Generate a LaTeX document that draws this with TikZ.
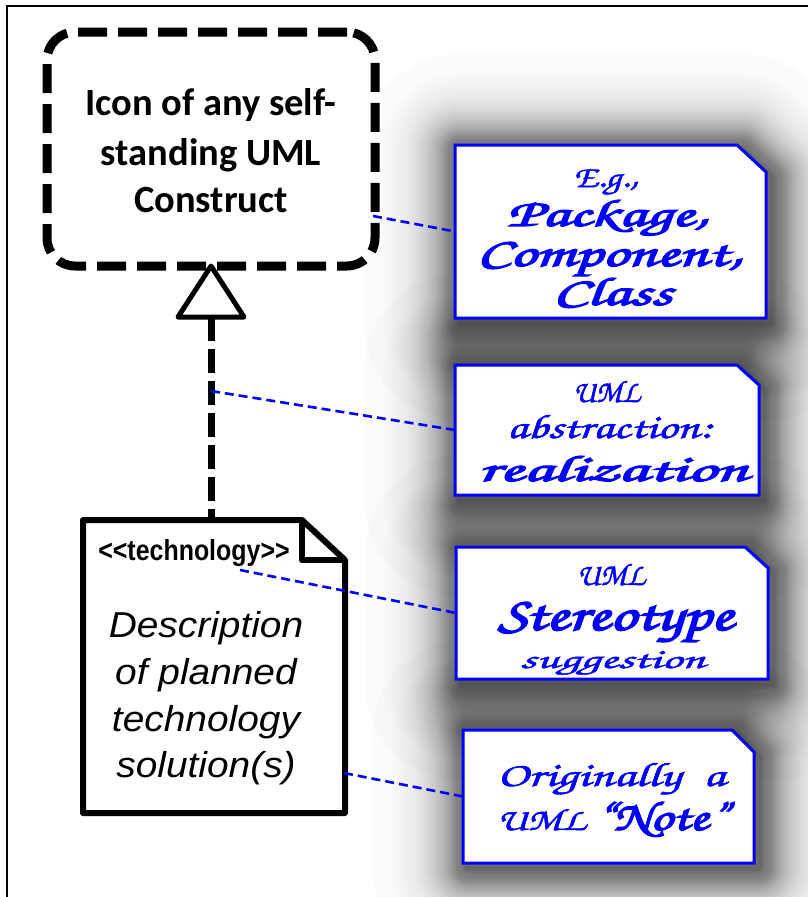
\documentclass[tikz,border=0pt]{standalone}
\usepackage{fontspec}
\usepackage{graphicx}
\setmainfont{Liberation Sans}
\newfontfamily\calibri{Carlito}
\newfontfamily\narrowsans[FakeStretch=0.86,Ligatures=TeXOff]{Liberation Sans}
\newfontfamily\descsans[FakeStretch=1.08]{Liberation Sans}
\newfontfamily\chorus[FakeBold=1.5]{texgyrechorus-mediumitalic.otf}
\newfontfamily\chorusbf[FakeBold=3]{texgyrechorus-mediumitalic.otf}
\usetikzlibrary{calc}
\begin{document}
\begin{tikzpicture}[x=1pt,y=-1pt,
  conn/.style={draw=blue, line width=2.6pt, dash pattern=on 9pt off 5pt},
  notebox/.style={draw=blue, line width=3pt, fill=white, line join=miter},
  holder/.style={inner sep=0pt, outer sep=0pt, draw=none},
  scr/.style={anchor=base, text=blue, inner sep=0pt, font=\fontsize{30}{30}\selectfont},
  icontxt/.style={anchor=base, inner sep=0pt, font=\calibri\bfseries\fontsize{38.5}{46}\selectfont},
  desctxt/.style={anchor=base, inner sep=0pt, font=\descsans\itshape\fontsize{36}{44}\selectfont}
]
\useasboundingbox (0,0) rectangle (808,897);
\fill[white] (0,0) rectangle (808,897);

% note placeholders
\node[holder, minimum width=311pt, minimum height=173pt] (n1) at (610.5,231.5) {};
\node[holder, minimum width=304pt, minimum height=130pt] (n2) at (607,430) {};
\node[holder, minimum width=312pt, minimum height=132pt] (n3) at (612,613) {};
\node[holder, minimum width=291pt, minimum height=133pt] (n4) at (608.5,796.5) {};

% soft shadows: stacked translucent strokes giving a blurred-edge profile
\begin{scope}[transform canvas={shift={(5pt,-5pt)}}]
\foreach \k in {1,...,64}{
  \pgfmathsetmacro\hw{1.5*\k}
  \pgfmathsetmacro\Ta{1.05/(1+exp(0.045*(\hw-0.75)))}
  \pgfmathsetmacro\Tb{\k==64 ? 0 : 1.05/(1+exp(0.045*(\hw+0.75)))}
  \pgfmathsetmacro\al{1-(1-\Ta)/(1-\Tb)}
  \foreach \n/\cx/\cy in {n1/29/27, n2/22/20, n3/23/21, n4/22/22}{
    \path[draw=black, draw opacity=\al, line width=2*\hw*1pt, line join=round] (\n.south west) -- (\n.north west) -- ($(\n.north east)+(-\cx,0)$) -- ($(\n.north east)+(0,\cy)$) -- (\n.south east) -- cycle;
  }
}
\end{scope}
\foreach \n/\cx/\cy in {n1/29/27, n2/22/20, n3/23/21, n4/22/22}
  \draw[notebox] (\n.south west) -- (\n.north west) -- ($(\n.north east)+(-\cx,0)$) -- ($(\n.north east)+(0,\cy)$) -- (\n.south east) -- cycle;

% frame
\draw[line width=2.5pt] (7,905) -- (7,6) -- (815,6);

% icon box
\node[draw, line width=9pt, dash pattern=on 29pt off 11pt, rounded corners=28pt, minimum width=328pt, minimum height=234pt, fill=white, inner sep=0pt, outer sep=0pt] (icon) at (211,149) {};
\node[icontxt] (ic1) at (211,115) {Icon of any self-};
\node[icontxt] (ic2) at (211,165) {standing UML};
\node[icontxt] (ic3) at (211,212) {Construct};

% document
\node[holder, minimum width=262pt, minimum height=293pt] (doc) at (214,666.5) {};
\draw[line width=6pt, line join=round, fill=white] (doc.south west) -- (doc.north west) -- ($(doc.north east)+(-43,0)$) -- ($(doc.north east)+(0,40)$) -- (doc.south east) -- cycle;
\draw[line width=6pt, line join=round] ($(doc.north east)+(-43,0)$) -- ($(doc.north east)+(-43,40)$) -- ($(doc.north east)+(0,40)$);

% realization
\coordinate (tb) at (211,317);
\draw[line width=7pt, dash pattern=on 24pt off 8pt] (tb) -- (tb |- doc.north);
\draw[line width=5pt, line join=round, fill=white] (icon.south) -- ($(tb)+(-33,0)$) -- ($(tb)+(33,0)$) -- cycle;

\node[anchor=base, inner sep=0pt, font=\narrowsans\bfseries\fontsize{29}{34}\selectfont] (tech) at (194,560) {<<technology>>};
\node[desctxt] (d1) at (206,637) {Description};
\node[desctxt] (d2) at (206,684) {of planned};
\node[desctxt] (d3) at (206,731) {technology};
\node[desctxt] (d4) at (206,777) {solution(s)};

% connectors
\coordinate (iconpt) at (373,216);
\coordinate (realpt) at (211,391);
\coordinate (techpt) at (240,570);
\coordinate (docpt) at (344,773);
\draw[conn] (iconpt) -- (n1.west);
\draw[conn] (realpt) -- (n2.west);
\draw[conn] (techpt) -- (n3.west);
\draw[conn] (docpt) -- (n4.west);

% note texts
\node[scr] (a1) at (605.5,187) {\resizebox{65pt}{18pt}{\chorus E.g.,}};
\node[scr] (a2) at (607.5,226) {\resizebox{201pt}{26pt}{\chorusbf Package,}};
\node[scr] (a3) at (609.5,266) {\resizebox{265pt}{24pt}{\chorusbf Component,}};
\node[scr] (a4) at (612.5,305) {\resizebox{119pt}{27pt}{\chorusbf Class}};
\node[scr] (b1) at (606.5,402) {\resizebox{67pt}{21pt}{\chorus UML}};
\node[scr] (b2) at (609.5,438) {\resizebox{205pt}{23pt}{\chorus abstraction:}};
\node[scr] (b3) at (613,481) {\resizebox{270pt}{25pt}{\chorusbf realization}};
\node[scr] (c1) at (611,585) {\resizebox{68pt}{21pt}{\chorus UML}};
\node[scr] (c2) at (615.5,630) {\resizebox{235pt}{28pt}{\chorusbf Stereotype}};
\node[scr] (c3) at (612.5,668) {\resizebox{185pt}{17pt}{\chorus suggestion}};
\node[scr] (e1) at (611,786) {\resizebox{228pt}{23pt}{\chorus Originally\ \ a}};
\node[scr] (e2) at (612.5,830) {\resizebox{231pt}{28pt}{{\chorus UML\ }{\chorusbf\fontsize{40}{40}\selectfont “Note”}}};
\end{tikzpicture}
\end{document}
